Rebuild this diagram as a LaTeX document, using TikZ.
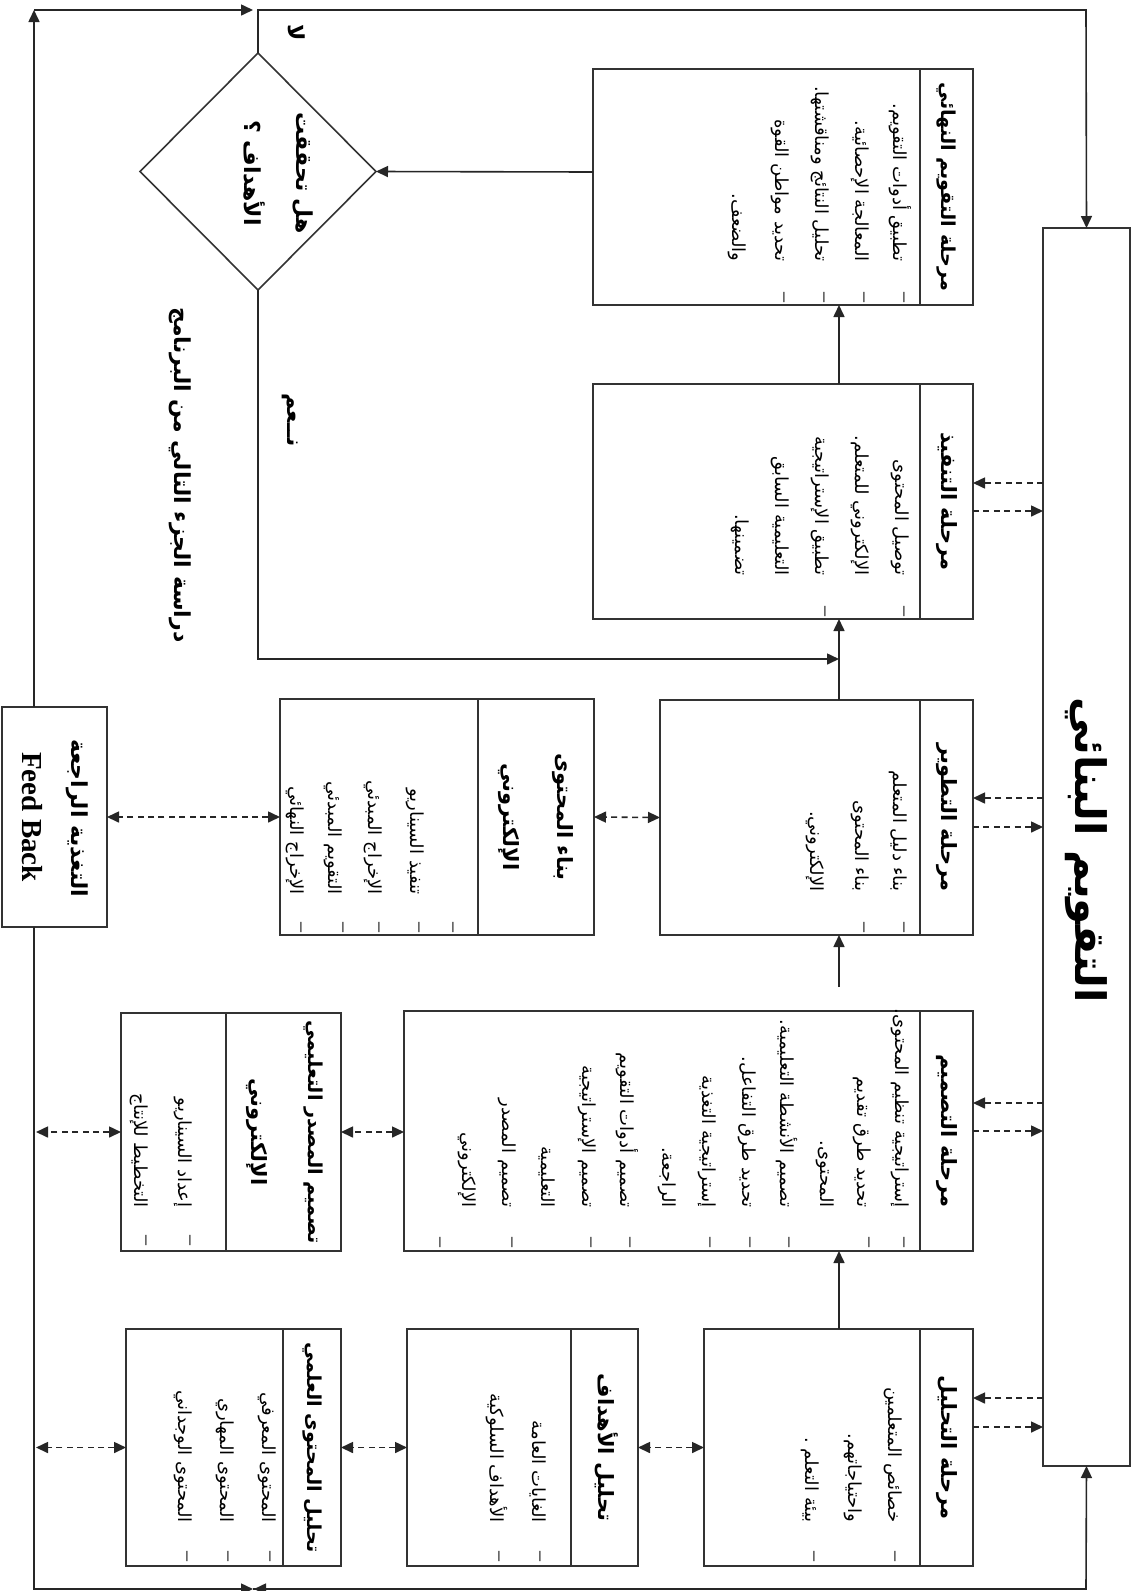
\documentclass[tikz,border=0pt]{standalone}
\usepackage{fontspec}
\setmainfont{Liberation Serif}
\newfontfamily\arabicfont[Script=Arabic]{DejaVu Sans}
\TeXXeTstate=1
\usetikzlibrary{arrows.meta,shapes.geometric}
\begin{document}
\begin{tikzpicture}[x=0.5pt,y=0.5pt,rotate=-90,transform shape,
  boxst/.style={draw=black!80,line width=0.8pt,inner sep=0pt,outer sep=0pt},
  conn/.style={draw=black!85,line width=0.8pt},
  arrowst/.style={conn,-{Triangle[length=6pt,width=5.5pt]}},
  dashone/.style={conn,dash pattern=on 3pt off 2.2pt,-{Triangle[length=6pt,width=5.5pt]}},
  dashboth/.style={conn,dash pattern=on 3pt off 2.2pt,{Triangle[length=6pt,width=5.5pt]}-{Triangle[length=6pt,width=5.5pt]}},
  itemst/.style={anchor=east,inner sep=0pt,font=\arabicfont\fontsize{9}{11}\selectfont},
  headst/.style={inner sep=0pt,font=\arabicfont\bfseries\fontsize{10.5}{13}\selectfont},
  longhead/.style={inner sep=0pt,font=\arabicfont\bfseries\fontsize{9.6}{12}\selectfont},
  bulst/.style={inner sep=0pt,font=\fontsize{10}{12}\selectfont},
  lblst/.style={inner sep=0pt,font=\arabicfont\bfseries\fontsize{11}{13}\selectfont},
]
\useasboundingbox (0,0) rectangle (1591,1138);
\fill[white] (0,0) rectangle (1591,1138);

% ---- title box
\node[boxst,minimum width=619pt,minimum height=43.5pt] (title) at (847,1086.5) {};
\node[inner sep=0pt,font=\arabicfont\bfseries\fontsize{21}{24}\selectfont] (titletxt) at (850,1086) {\beginR التقويم البنائي\endR};

% ---- phase boxes
\node[boxst,minimum width=118.5pt,minimum height=134.5pt] (an) at (1447.5,838.5) {};
\node[boxst,minimum width=120pt,minimum height=284.5pt] (de) at (1131,688.5) {};
\node[boxst,minimum width=117.5pt,minimum height=156.5pt] (dv) at (817.5,816.5) {};
\node[boxst,minimum width=117.5pt,minimum height=190pt] (im) at (501.5,783) {};
\node[boxst,minimum width=118pt,minimum height=190pt] (fi) at (187,783) {};
\draw[boxst] (1329,920) -- (1566,920);
\draw[boxst] (1011,920) -- (1251,920);
\draw[boxst] (700,920) -- (935,920);
\draw[boxst] (384,920) -- (619,920);
\draw[boxst] (69,920) -- (305,920);

% ---- secondary boxes
\node[boxst,minimum width=118.5pt,minimum height=115.5pt] (ob) at (1447.5,522.5) {};
\node[boxst,minimum width=118.5pt,minimum height=107.5pt] (co) at (1447.5,233.5) {};
\node[boxst,minimum width=119pt,minimum height=110pt] (sd) at (1132,231) {};
\node[boxst,minimum width=118pt,minimum height=157pt] (bc) at (817,437) {};
\node[boxst,minimum width=110pt,minimum height=52.5pt] (fb) at (817,54.5) {};
\draw[boxst] (1329,571) -- (1566,571);
\draw[boxst] (1329,283) -- (1566,283);
\draw[boxst] (1013,226) -- (1251,226);
\draw[boxst] (699,478) -- (935,478);

% ---- diamond
\node[boxst,shape=diamond,minimum width=118.5pt,minimum height=118pt] (dm) at (171.5,258) {};
\node[lblst] (dm1) at (173,303) {\beginR هل تحققت\endR};
\node[lblst] (dm2) at (173,255) {\beginR الأهداف ؟\endR};

% ---- headers
\node[headst] (anh) at (1447.5,946.5) {\beginR مرحلة التحليل\endR};
\node[headst] (deh) at (1131,946.5) {\beginR مرحلة التصميم\endR};
\node[headst] (dvh) at (817.5,946.5) {\beginR مرحلة التطوير\endR};
\node[headst] (imh) at (501.5,946.5) {\beginR مرحلة التنفيذ\endR};
\node[longhead] (fih) at (187,946.5) {\beginR مرحلة التقويم النهائي\endR};
\node[headst] (obh) at (1447.5,606) {\beginR تحليل الأهداف\endR};
\node[longhead] (coh) at (1447.5,312) {\beginR تحليل المحتوى العلمي\endR};
\node[longhead] (sdh1) at (1132,313) {\beginR تصميم المصدر التعليمي\endR};
\node[headst] (sdh2) at (1132,257) {\beginR الإلكتروني\endR};
\node[headst] (bch1) at (817,563) {\beginR بناء المحتوى\endR};
\node[headst] (bch2) at (817,509) {\beginR الإلكتروني\endR};

% ---- analysis items
\node[itemst] (an1) at (1523,893) {\beginR خصائص المتعلمين\endR};
\node[itemst] (an2) at (1523,853) {\beginR واحتياجاتهم.\endR};
\node[itemst] (an3) at (1523,810) {\beginR بيئة التعلم .\endR};
\node[bulst] (anb1) at (1556,893) {–};
\node[bulst] (anb2) at (1556,812) {–};
% objectives
\node[itemst] (ob1) at (1523,538) {\beginR الغايات العامة\endR};
\node[itemst] (ob2) at (1523,497) {\beginR الأهداف السلوكية\endR};
\node[bulst] (obb1) at (1556,538) {–};
\node[bulst] (obb2) at (1556,497) {–};
% content
\node[itemst] (co1) at (1523,267) {\beginR المحتوى المعرفي\endR};
\node[itemst] (co2) at (1523,225) {\beginR المحتوى المهاري\endR};
\node[itemst] (co3) at (1523,183) {\beginR المحتوى الوجداني\endR};
\node[bulst] (cob1) at (1556,268) {–};
\node[bulst] (cob2) at (1556,226) {–};
\node[bulst] (cob3) at (1556,185) {–};
% design
\node[itemst] (de1) at (1208,900) {\beginR إستراتيجية تنظيم المحتوى.\endR};
\node[itemst] (de2) at (1208,862) {\beginR تحديد طرق تقديم\endR};
\node[itemst] (de3) at (1208,825) {\beginR المحتوى.\endR};
\node[itemst] (de4) at (1208,787) {\beginR تصميم الأنشطة التعليمية.\endR};
\node[itemst] (de5) at (1208,747) {\beginR تحديد طرق التفاعل.\endR};
\node[itemst] (de6) at (1208,707) {\beginR إستراتيجية التغذية\endR};
\node[itemst] (de7) at (1208,667) {\beginR الراجعة.\endR};
\node[itemst] (de8) at (1208,627) {\beginR تصميم أدوات التقويم\endR};
\node[itemst] (de9) at (1208,587) {\beginR تصميم الإستراتيجية\endR};
\node[itemst] (de10) at (1208,547) {\beginR التعليمية\endR};
\node[itemst] (de11) at (1208,507) {\beginR تصميم المصدر\endR};
\node[itemst] (de12) at (1208,467) {\beginR الإلكتروني\endR};
\node[bulst] (deb1) at (1242,902) {–};
\node[bulst] (deb2) at (1242,867) {–};
\node[bulst] (deb3) at (1242,787) {–};
\node[bulst] (deb4) at (1242,748) {–};
\node[bulst] (deb5) at (1242,708) {–};
\node[bulst] (deb6) at (1242,628) {–};
\node[bulst] (deb7) at (1242,589) {–};
\node[bulst] (deb8) at (1242,510) {–};
\node[bulst] (deb9) at (1242,438) {–};
% source design
\node[itemst] (sd1) at (1208,183) {\beginR إعداد السيناريو\endR};
\node[itemst] (sd2) at (1208,139) {\beginR التخطيط للإنتاج\endR};
\node[bulst] (sdb1) at (1240,188) {–};
\node[bulst] (sdb2) at (1240,144) {–};
% development
\node[itemst] (dv1) at (892,898) {\beginR بناء دليل المتعلم\endR};
\node[itemst] (dv2) at (892,860) {\beginR بناء المحتوى\endR};
\node[itemst] (dv3) at (892,815) {\beginR الإلكتروني.\endR};
\node[bulst] (dvb1) at (927,902) {–};
\node[bulst] (dvb2) at (927,862) {–};
% build content
\node[itemst] (bc1) at (895,415) {\beginR تنفيذ السيناريو\endR};
\node[itemst] (bc2) at (895,373) {\beginR الإخراج المبدئي\endR};
\node[itemst] (bc3) at (895,333) {\beginR التقويم المبدئي\endR};
\node[itemst] (bc4) at (895,295) {\beginR الإخراج النهائي\endR};
\node[bulst] (bcb1) at (927,451) {–};
\node[bulst] (bcb2) at (927,417) {–};
\node[bulst] (bcb3) at (927,377) {–};
\node[bulst] (bcb4) at (927,341) {–};
\node[bulst] (bcb5) at (927,299) {–};
% implementation
\node[itemst] (im1) at (576,900) {\beginR توصيل المحتوى\endR};
\node[itemst] (im2) at (576,860) {\beginR الإلكتروني للمتعلم.\endR};
\node[itemst] (im3) at (576,820) {\beginR تطبيق الإستراتيجية\endR};
\node[itemst] (im4) at (576,780) {\beginR التعليمية السابق\endR};
\node[itemst] (im5) at (576,740) {\beginR تضمينها.\endR};
\node[bulst] (imb1) at (611,902) {–};
\node[bulst] (imb2) at (611,823) {–};
% final
\node[itemst] (fi1) at (262,900) {\beginR تطبيق أدوات التقويم.\endR};
\node[itemst] (fi2) at (262,860) {\beginR المعالجة الإحصائية.\endR};
\node[itemst] (fi3) at (262,820) {\beginR تحليل النتائج ومناقشتها.\endR};
\node[itemst] (fi4) at (262,780) {\beginR تحديد مواطن القوة\endR};
\node[itemst] (fi5) at (262,737) {\beginR والضعف.\endR};
\node[bulst] (fib1) at (297,902) {–};
\node[bulst] (fib2) at (297,862) {–};
\node[bulst] (fib3) at (297,822) {–};
\node[bulst] (fib4) at (297,782) {–};

% ---- feedback
\node[lblst] (fbt1) at (818,77) {\beginR التغذية الراجعة\endR};
\node[inner sep=0pt,font=\bfseries\fontsize{14.5}{16}\selectfont] (fbt2) at (817,32) {Feed Back};

% ---- labels
\node[lblst] (no) at (33,297) {\beginR لا\endR};
\node[lblst] (yes) at (420,290) {\beginR نــعم\endR};
\node[lblst] (next) at (475,180) {\beginR دراسة الجزء التالي من البرنامج\endR};

% ---- phase flow arrows
\draw[arrowst] (1329,839) -- (1251,839);
\draw[arrowst] (987,839) -- (935,839);
\draw[arrowst] (700,839) -- (619,839);
\draw[arrowst] (384,839) -- (305,839);
\draw[arrowst] (172,593) -- (dm.north);
\coordinate (yescorner) at (659,258);
\coordinate (yesend) at (659,839);
\draw[arrowst] (dm.east) -- (yescorner) -- (yesend);
\coordinate (topnode) at (10,258);
\coordinate (topright) at (10,1086);
\draw[arrowst] (dm.west) -- (topnode) -- (topright) -- (title.west);

% ---- feedback loop lines
\coordinate (tlc) at (10,34);
\coordinate (blc) at (1589,34);
\coordinate (brc) at (1589,1086);
\draw[arrowst] (707,34) -- (tlc);
\draw[arrowst] (tlc) -- (10,253);
\draw[arrowst] (927,34) -- (blc) -- (1589,253);
\draw[arrowst] (1589,253) -- (brc) -- (title.east);
\draw[arrowst] (1589,275) -- (1589,254);

% ---- dashed links to title box
\draw[dashone] (1398,1043) -- (1398,973);
\draw[dashone] (1427,973) -- (1427,1043);
\draw[dashone] (1103,1043) -- (1103,973);
\draw[dashone] (1131,973) -- (1131,1043);
\draw[dashone] (798,1043) -- (798,973);
\draw[dashone] (827,973) -- (827,1043);
\draw[dashone] (483,1043) -- (483,973);
\draw[dashone] (511,973) -- (511,1043);

% ---- dashed double links
\draw[dashboth] (an.south) -- (ob.north);
\draw[dashboth] (ob.south) -- (co.north);
\draw[dashboth] (co.south) -- (1447.5,36);
\draw[dashboth] (1132,404) -- (sd.north);
\draw[dashboth] (sd.south) -- (1132,36);
\draw[dashboth] (dv.south) -- (bc.north);
\draw[dashboth] (bc.south) -- (fb.north);
\end{tikzpicture}
\end{document}
